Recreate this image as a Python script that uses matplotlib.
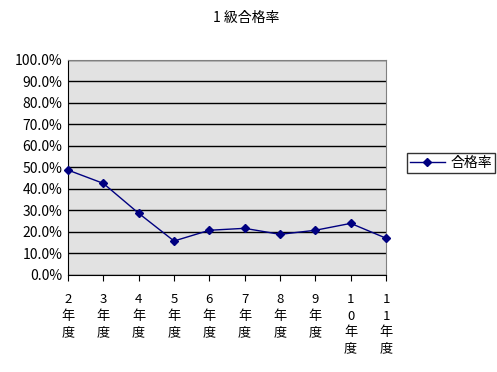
import matplotlib
matplotlib.use("Agg")
import matplotlib.pyplot as plt
from matplotlib.ticker import FuncFormatter

plt.rcParams['font.family'] = ['Noto Sans CJK JP', 'DejaVu Sans']

years = ['2', '3', '4', '5', '6', '7', '8', '9', '10', '11']
rates = [48.8, 42.6, 28.7, 15.8, 20.8, 21.7, 18.9, 20.8, 24.0, 17.1]

# stacked vertical labels like "2\n年\n度"
labels = ['\n'.join(list(y) + ['年', '度']) for y in years]

fig = plt.figure(figsize=(4.97, 3.72), dpi=100)
ax = fig.add_axes([0.1368, 0.2608, 0.64, 0.578])
ax.set_facecolor('#e2e2e2')

x = range(len(years))
ax.plot(x, rates, color='#000080', marker='D', markersize=4.5, linewidth=1,
        label='合格率', clip_on=False, zorder=3)

ax.set_xlim(0, len(years) - 1)
ax.set_ylim(0, 100)
ax.set_yticks(range(0, 101, 10))
ax.yaxis.set_major_formatter(FuncFormatter(lambda v, p: f"{v:.1f}%"))
ax.grid(axis='y', color='black', linewidth=1)
ax.set_axisbelow(True)

ax.set_xticks(list(x))
ax.set_xticklabels(labels, fontsize=9.5, linespacing=1.35, va='top')
ax.tick_params(axis='x', direction='out', length=4, pad=9, color='black')
ax.tick_params(axis='y', length=0, pad=4, labelsize=10)

for s in ['top', 'right']:
    ax.spines[s].set_color('#808080')
for s in ['left', 'bottom']:
    ax.spines[s].set_color('black')

fig.text(0.495, 0.952, '1 級合格率', ha='center', va='center', fontsize=10)

leg = ax.legend(loc='center left', bbox_to_anchor=(1.045, 0.52), frameon=True,
                fancybox=False, edgecolor='black', fontsize=10,
                handlelength=2.5, borderpad=0.2, handletextpad=0.4)
leg.get_frame().set_linewidth(1)

fig.savefig('out.png', dpi=100)
